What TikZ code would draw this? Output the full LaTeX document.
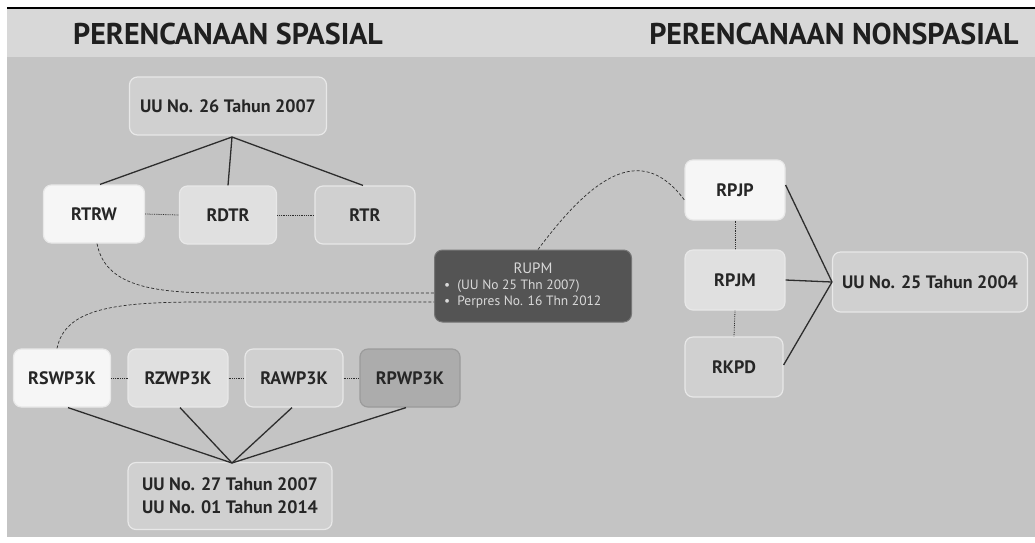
\documentclass[tikz,border=0pt]{standalone}
\usepackage{fontspec}
\setmainfont{PT Sans}
\usetikzlibrary{arrows.meta}
\definecolor{bgmain}{RGB}{196,196,196}
\definecolor{bghead}{RGB}{216,216,216}
\definecolor{boxwhite}{RGB}{246,246,246}
\definecolor{boxlight}{RGB}{224,224,224}
\definecolor{boxmid}{RGB}{208,208,208}
\definecolor{boxdark}{RGB}{172,172,172}
\definecolor{rupm}{RGB}{84,84,84}
\definecolor{edgecol}{RGB}{232,232,232}
\definecolor{linecol}{RGB}{45,45,45}
\tikzset{
  x=1pt, y=-1pt,
  nbox/.style={draw=edgecol, line width=1.2pt, rounded corners=8pt, minimum height=58pt,
    font=\fontsize{18}{21}\selectfont\bfseries, text=black!85, align=center},
  wbox/.style={nbox, fill=boxwhite},
  lbox/.style={nbox, fill=boxlight},
  mbox/.style={nbox, fill=boxmid},
  dbox/.style={nbox, fill=boxdark, draw=boxdark!90!black},
  link/.style={draw=linecol, line width=1.3pt},
  dlink/.style={draw=linecol, line width=0.8pt, densely dotted},
  curve/.style={draw=linecol, line width=0.7pt, densely dashed},
  title/.style={font=\fontsize{30}{33}\selectfont\bfseries, text=black!88}
}
\begin{document}
\begin{tikzpicture}
\useasboundingbox (0,0) rectangle (1035,542);
\fill[white] (0,0) rectangle (1035,542);
\fill[bghead] (7,8) rectangle (1035,57);
\fill[bgmain] (7,57) rectangle (1035,537);
\draw[black, line width=2pt] (7,8) -- (1035,8);

\node[title] (t1) at (228,34) {PERENCANAAN SPASIAL};
\node[title, anchor=east] (t2) at (1022,34) {PERENCANAAN NONSPASIAL};

% spatial top
\node[mbox, minimum width=197pt] (uu26) at (228,106) {UU No. 26 Tahun 2007};
\node[wbox, minimum width=101pt] (rtrw) at (94,214) {RTRW};
\node[lbox, minimum width=97pt] (rdtr) at (228,215) {RDTR};
\node[mbox, minimum width=100pt] (rtr) at (365,215) {RTR};

% RUPM
\node[draw=rupm!80!white, line width=1pt, fill=rupm, rounded corners=8pt, minimum width=197pt, minimum height=72pt,
      text=white!85!black, font=\fontsize{13.5}{16}\selectfont, align=left] (rupm) at (533,286)
  {\makebox[178pt][c]{\fontsize{15}{16}\selectfont RUPM}\\ \textbullet\ \ (UU No 25 Thn 2007)\\ \textbullet\ \ Perpres No. 16 Thn 2012};

% nonspatial
\node[wbox, minimum width=100pt, minimum height=60pt] (rpjp) at (735,190) {RPJP};
\node[lbox, minimum width=100pt, minimum height=60pt] (rpjm) at (735,280) {RPJM};
\node[mbox, minimum width=98pt, minimum height=60pt] (rkpd) at (734,367) {RKPD};
\node[mbox, minimum width=195pt, minimum height=60pt] (uu25) at (930,282) {UU No. 25 Tahun 2004};

% coastal
\node[wbox, minimum width=97pt] (rswp) at (62,378) {RSWP3K};
\node[lbox, minimum width=100pt] (rzwp) at (178,378) {RZWP3K};
\node[mbox, minimum width=98pt] (rawp) at (294,378) {RAWP3K};
\node[dbox, minimum width=100pt] (rpwp) at (410,378) {RPWP3K};
\node[mbox, minimum width=204pt, minimum height=67pt, font=\fontsize{18}{23}\selectfont\bfseries] (uu27) at (230,496) {UU No. 27 Tahun 2007\\UU No. 01 Tahun 2014};

% links top
\coordinate (a26) at (232,137);
\draw[link] (a26) -- ([xshift=6pt]rtrw.north);
\draw[link] (a26) -- (rdtr.north);
\draw[link] (a26) -- ([xshift=-2pt]rtr.north);
\draw[dlink] (rtrw.east) -- (rdtr.west);
\draw[dlink] (rdtr.east) -- (rtr.west);

% links nonspatial
\coordinate (a25) at (832,282);
\draw[link] (a25) -- ([yshift=5pt]rpjp.east);
\draw[link] (a25) -- (rpjm.east);
\draw[link] (a25) -- ([yshift=2pt]rkpd.east);
\draw[dlink] (rpjp.south) -- (rpjm.north);
\draw[dlink] (rpjm.south) -- (rkpd.north);

% links coastal
\coordinate (a27) at (232,463);
\draw[link] (a27) -- ([xshift=6pt]rswp.south);
\draw[link] (a27) -- ([xshift=2pt]rzwp.south);
\draw[link] (a27) -- ([xshift=-2pt]rawp.south);
\draw[link] (a27) -- ([xshift=-4pt]rpwp.south);
\draw[dlink] (rswp.east) -- (rzwp.west);
\draw[dlink] (rzwp.east) -- (rawp.west);
\draw[dlink] (rawp.east) -- (rpwp.west);

% curves
\coordinate (r1) at ([yshift=-7pt]rupm.west);
\coordinate (r2) at ([yshift=-16pt]rupm.west);
\draw[curve] ([xshift=3pt]rtrw.south) .. controls (105,285) and (150,293) .. (220,293) -- (r1);
\draw[curve] ([xshift=-5pt]rswp.north) .. controls (65,310) and (110,302) .. (200,302) -- (r2);
\draw[curve] ([xshift=5pt]rupm.north) .. controls (590,180) and (640,140) .. ([yshift=-10pt]rpjp.west);
\end{tikzpicture}
\end{document}
